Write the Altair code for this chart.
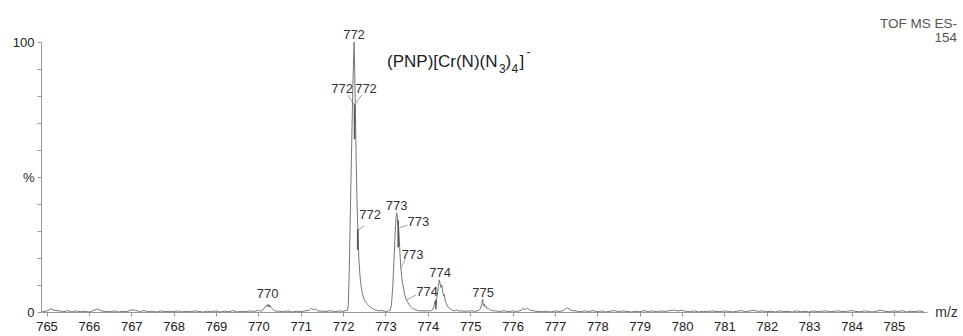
import altair as alt
import pandas as pd

# ---------------- spectrum data (m/z, relative intensity %) ----------------
base_a_mz = [764.9, 765.0, 765.1, 765.2, 765.3, 765.4, 765.5, 765.6, 765.7, 765.8, 765.9,
             766.0, 766.1, 766.2, 766.3, 766.4, 766.5, 766.6, 766.7, 766.8, 766.9,
             767.0, 767.1, 767.2, 767.3, 767.4, 767.5, 767.6, 767.7, 767.8, 767.9,
             768.0, 768.1, 768.2, 768.3, 768.4, 768.5, 768.6, 768.7, 768.8, 768.9,
             769.0, 769.1, 769.2, 769.3, 769.4, 769.5, 769.6, 769.7, 769.8, 769.9,
             770.0, 770.05]
base_a_i = [0.2, 0.3, 1.2, 0.6, 0.4, 0.1, 0.5, 0.0, 0.4, 0.1, 0.3,
            0.0, 0.5, 1.1, 0.4, 0.2, 0.1, 0.4, 0.0, 0.3, 0.1,
            0.8, 0.6, 0.2, 0.5, 0.1, 0.3, 0.0, 0.4, 0.1, 0.3,
            0.1, 0.4, 0.0, 0.3, 0.1, 0.4, 0.2, 0.0, 0.3, 0.1,
            0.4, 0.0, 0.3, 0.1, 0.5, 0.0, 0.3, 0.1, 0.4, 0.2,
            0.6, 0.3]

peak770_mz = [770.10, 770.14, 770.18, 770.21, 770.23, 770.25, 770.27, 770.30, 770.33, 770.37, 770.42]
peak770_i = [0.6, 1.5, 2.4, 2.0, 2.9, 1.8, 2.6, 1.6, 1.2, 0.6, 0.3]

base_b_mz = [770.5, 770.6, 770.7, 770.8, 770.9, 771.0, 771.1, 771.2, 771.25, 771.3, 771.35,
             771.4, 771.5, 771.6, 771.7, 771.8, 771.9, 772.0, 772.05]
base_b_i = [0.3, 0.1, 0.4, 0.0, 0.3, 0.1, 0.4, 0.6, 1.4, 0.8, 1.1,
            0.4, 0.3, 0.2, 0.5, 0.1, 0.4, 0.2, 0.5]

peak772_mz = [772.10, 772.12, 772.14, 772.16, 772.19, 772.22, 772.245, 772.26, 772.275, 772.29,
              772.31, 772.33, 772.35, 772.37, 772.40, 772.43, 772.46, 772.49, 772.52, 772.56,
              772.60, 772.64, 772.68, 772.72, 772.77, 772.82]
peak772_i = [0.6, 2.0, 12.0, 28.0, 52.0, 76.0, 93.0, 100.0, 88.0, 74.0,
             55.0, 40.0, 29.0, 20.0, 13.0, 9.0, 6.5, 5.0, 4.0, 3.2,
             2.4, 1.8, 1.4, 1.0, 0.7, 0.5]

base_c_mz = [772.87, 772.92, 772.97, 773.02, 773.07]
base_c_i = [0.4, 0.6, 0.3, 0.2, 0.4]

peak773_mz = [773.11, 773.14, 773.17, 773.20, 773.23, 773.25, 773.265, 773.28, 773.30, 773.32,
              773.34, 773.36, 773.38, 773.40, 773.43, 773.46, 773.49, 773.52, 773.55, 773.58,
              773.62, 773.66, 773.70, 773.75, 773.80, 773.86, 773.92, 773.98, 774.04]
peak773_i = [0.6, 2.5, 9.0, 19.0, 30.0, 35.0, 36.7, 35.0, 32.5, 29.0,
             22.0, 17.0, 13.5, 11.0, 8.5, 6.0, 4.5, 3.8, 2.8, 2.4,
             1.6, 1.2, 0.9, 0.6, 0.4, 0.5, 0.3, 0.5, 0.4]

peak774_mz = [774.09, 774.12, 774.15, 774.17, 774.19, 774.21, 774.23, 774.25, 774.27, 774.29,
              774.31, 774.33, 774.35, 774.37, 774.39, 774.41, 774.44, 774.47, 774.50, 774.54, 774.58]
peak774_i = [0.5, 1.2, 2.5, 4.0, 2.8, 5.0, 7.5, 9.5, 11.9, 10.5,
             9.0, 10.0, 7.5, 6.0, 6.5, 4.0, 3.0, 2.0, 1.5, 1.0, 0.6]

base_d_mz = [774.63, 774.68, 774.74, 774.80, 774.86, 774.92, 774.98, 775.04, 775.10, 775.16]
base_d_i = [0.4, 0.7, 0.3, 0.5, 0.2, 0.4, 0.3, 0.5, 0.2, 0.4]

peak775_mz = [775.21, 775.24, 775.27, 775.295, 775.31, 775.33, 775.35, 775.37, 775.40, 775.43, 775.47, 775.52]
peak775_i = [0.6, 1.3, 2.8, 4.7, 2.4, 3.0, 1.8, 2.2, 1.2, 1.4, 0.8, 0.5]

base_e_mz = [775.6, 775.7, 775.8, 775.9, 776.0, 776.1, 776.2, 776.25, 776.3, 776.35, 776.4, 776.5,
             776.6, 776.7, 776.8, 776.9, 777.0, 777.1, 777.2, 777.25, 777.3, 777.35, 777.4, 777.5,
             777.6, 777.7, 777.8, 777.9, 778.0, 778.1, 778.2, 778.3, 778.4, 778.5, 778.6, 778.7,
             778.8, 778.9, 779.0, 779.1, 779.2, 779.3, 779.4, 779.5, 779.6, 779.7, 779.8, 779.9,
             780.0, 780.1, 780.2, 780.3, 780.4, 780.5, 780.6, 780.7, 780.8, 780.9, 781.0, 781.1,
             781.2, 781.3, 781.4, 781.5, 781.6, 781.7, 781.8, 781.9, 782.0, 782.1, 782.2, 782.3,
             782.4, 782.5, 782.6, 782.7, 782.8, 782.9, 783.0, 783.1, 783.2, 783.3, 783.4, 783.5,
             783.6, 783.7, 783.8, 783.9, 784.0, 784.1, 784.2, 784.3, 784.4, 784.5, 784.6, 784.7,
             784.8, 784.9, 785.0, 785.1, 785.2, 785.3, 785.4, 785.5, 785.6, 785.7]
base_e_i = [0.4, 0.2, 0.5, 0.1, 0.4, 0.2, 0.6, 1.3, 0.9, 1.5, 0.7, 0.4,
            0.2, 0.1, 0.3, 0.0, 0.4, 0.2, 0.5, 1.2, 1.6, 0.9, 0.5, 0.4,
            0.1, 0.4, 0.2, 0.5, 0.1, 0.4, 0.0, 0.3, 0.5, 0.1, 0.4, 0.2,
            0.0, 0.3, 0.1, 0.5, 0.2, 0.4, 0.1, 0.4, 0.2, 0.5, 0.7, 0.4,
            0.6, 0.2, 0.1, 0.4, 0.0, 0.3, 0.1, 0.4, 0.2, 0.1, 0.4, 0.2,
            0.0, 0.3, 0.5, 0.1, 0.4, 0.6, 0.2, 0.4, 0.1, 0.3, 0.0, 0.4,
            0.1, 0.3, 0.0, 0.4, 0.1, 0.3, 0.0, 0.4, 0.1, 0.3, 0.4, 0.1,
            0.3, 0.4, 0.1, 0.3, 0.5, 0.2, 0.1, 0.4, 0.2, 0.0, 0.4, 0.6,
            0.2, 0.1, 0.4, 0.2, 0.5, 0.0, 0.3, 0.1, 0.4, 0.1]

# ---------------- peak labels ----------------
label_text = ["772", "772", "772", "772", "773", "773", "773", "774", "774", "775", "770"]
label_mz = [772.257, 771.974, 772.54, 772.635, 773.265, 773.775, 773.638, 773.98, 774.287, 775.306, 770.216]
label_i = [102.6, 82.6, 82.6, 35.9, 39.4, 33.4, 21.0, 7.4, 14.6, 7.1, 6.7]

# leader lines: from label end to point on the profile
lead_mz1 = [772.109, 772.439, 772.500, 773.514, 773.461, 773.720]
lead_i1 = [80.4, 80.4, 31.9, 32.2, 19.3, 6.3]
lead_mz2 = [772.265, 772.274, 772.345, 773.302, 773.359, 773.484]
lead_i2 = [76.8, 76.8, 30.4, 31.0, 16.2, 4.4]

# darker centroid segments on the profile
dark_mz = [772.27, 772.345, 773.30, 774.19]
dark_lo = [64.0, 23.0, 24.0, 1.0]
dark_hi = [77.0, 30.7, 34.0, 4.5]

compound_mz = [773.036]
compound_i = [90.85]

x_ticks = list(range(765, 786))
y_ticks = list(range(0, 101, 10))

# ---------------- build ----------------
mz_all = (base_a_mz + peak770_mz + base_b_mz + peak772_mz + base_c_mz + peak773_mz
          + peak774_mz + base_d_mz + peak775_mz + base_e_mz)
i_all = (base_a_i + peak770_i + base_b_i + peak772_i + base_c_i + peak773_i
         + peak774_i + base_d_i + peak775_i + base_e_i)
spec = pd.DataFrame({"mz": mz_all, "i": i_all}).sort_values("mz")

labels = pd.DataFrame({"t": label_text, "mz": label_mz, "i": label_i})
leads = pd.DataFrame({"mz1": lead_mz1, "i1": lead_i1, "mz2": lead_mz2, "i2": lead_i2})
darks = pd.DataFrame({"mz": dark_mz, "lo": dark_lo, "hi": dark_hi})
comp = pd.DataFrame({"mz": compound_mz, "i": compound_i})

FONT = "Liberation Sans"
xs = alt.Scale(domain=[764.87, 785.78], nice=False, zero=False)
ys = alt.Scale(domain=[0, 100], nice=False, zero=True)

xaxis = alt.Axis(values=x_ticks, format="d", title="m/z", titleX=905, titleY=0,
                 titleAlign="center", titleBaseline="middle", titleFontWeight="normal",
                 titleFontSize=14, titleColor="#333", titleFont=FONT, titleAngle=0,
                 labelFontSize=13, labelFont=FONT, labelColor="#222", labelPadding=4,
                 tickSize=4, tickColor="#999", domainColor="#999", grid=False,
                 labelFlush=False, labelOverlap=False)
yaxis = alt.Axis(values=y_ticks, title=None,
                 labelExpr="datum.value == 50 ? '%' : (datum.value == 0 ? '0' : (datum.value == 100 ? '100' : ''))",
                 labelFontSize=13, labelFont=FONT, labelColor="#222", labelPadding=3,
                 tickSize=4, tickColor="#999", domainColor="#999", grid=False,
                 labelFlush=False, labelOverlap=False)


def X(field):
    return alt.X(field, scale=xs, axis=xaxis)


def Y(field):
    return alt.Y(field, scale=ys, axis=yaxis)


line = alt.Chart(spec).mark_line(color="#767676", strokeWidth=1).encode(
    x=X("mz:Q"), y=Y("i:Q"))

dark = alt.Chart(darks).mark_rule(color="#555", strokeWidth=1.6).encode(
    x=X("mz:Q"), y=Y("lo:Q"), y2="hi:Q")

leader = alt.Chart(leads).mark_rule(color="#888", strokeWidth=0.8).encode(
    x=X("mz1:Q"), y=Y("i1:Q"), x2="mz2:Q", y2="i2:Q")

lab = alt.Chart(labels).mark_text(font=FONT, fontSize=13, color="#333",
                                  align="center", baseline="middle").encode(
    x=X("mz:Q"), y=Y("i:Q"), text="t:N")


def comp_piece(txt, size, dx, dy):
    return alt.Chart(comp).mark_text(font=FONT, fontSize=size, color="#222", align="left",
                                     baseline="alphabetic", dx=dx, dy=dy, text=txt).encode(
        x=X("mz:Q"), y=Y("i:Q"))


title_parts = [
    comp_piece("(PNP)[Cr(N)(N", 17, 0, 0),
    comp_piece("3", 12, 112, 6),
    comp_piece(")", 17, 118.5, 0),
    comp_piece("4", 12, 124.5, 6),
    comp_piece("]", 17, 132.5, 0),
    comp_piece("-", 12, 139.5, -11),
]

tof = alt.Chart(comp).mark_text(font=FONT, fontSize=13.5, color="#555", align="right",
                                baseline="alphabetic", text="TOF MS ES-").encode(
    x=alt.value(916), y=alt.value(-14.3))
num = alt.Chart(comp).mark_text(font=FONT, fontSize=13.5, color="#555", align="right",
                                baseline="alphabetic", text="154").encode(
    x=alt.value(916), y=alt.value(0.3))

chart = alt.layer(line, dark, leader, lab, *title_parts, tof, num).properties(
    width=886, height=270,
    padding={"left": 41, "top": 42, "right": 36, "bottom": 24},
    autosize=alt.AutoSizeParams(type="none"),
    background="white",
).configure(font=FONT).configure_view(strokeWidth=0, stroke="transparent")

chart.save("out.html", embed_options={"renderer": "svg", "actions": False})
